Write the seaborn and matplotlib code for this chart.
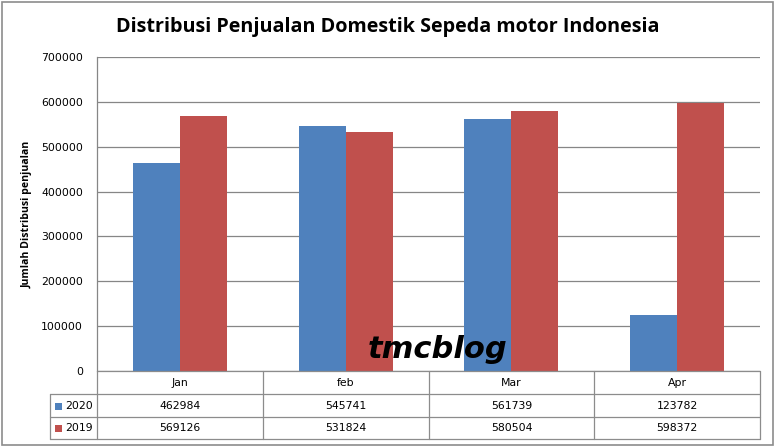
import matplotlib
matplotlib.use("Agg")
import matplotlib.pyplot as plt
import seaborn as sns
import pandas as pd
from matplotlib.patches import Rectangle
from matplotlib.lines import Line2D

months = ["Jan", "feb", "Mar", "Apr"]
series_names = ["2020", "2019"]
values_2020 = [462984, 545741, 561739, 123782]
values_2019 = [569126, 531824, 580504, 598372]
yticks = [0, 100000, 200000, 300000, 400000, 500000, 600000, 700000]
title = "Distribusi Penjualan Domestik Sepeda motor Indonesia"
ylabel = "Jumlah Distribusi penjualan"
watermark = "tmcblog"

colors = {"2020": "#4F81BD", "2019": "#C0504D"}
grid_c = "#868686"

df = pd.DataFrame({
    "month": months * 2,
    "series": ["2020"] * 4 + ["2019"] * 4,
    "value": values_2020 + values_2019,
})

sns.set_theme(style="white")
plt.rcParams['font.family'] = ['DejaVu Sans']

W, H = 776, 448
fig = plt.figure(figsize=(W / 100, H / 100), dpi=100)

def fx(px):
    return px / W

def fy(py):
    return 1 - py / H

ax_l, ax_r, ax_t, ax_b = 97, 760, 57, 371
ax = fig.add_axes([fx(ax_l), fy(ax_b), fx(ax_r - ax_l), (ax_b - ax_t) / H])

sns.barplot(data=df, x="month", y="value", hue="series", order=months,
            hue_order=series_names, palette=colors, width=0.566, gap=0,
            saturation=1, ax=ax, legend=False, edgecolor="none", linewidth=0)

ax.set_xlim(-0.5, 3.5)
ax.set_ylim(0, 700000)
ax.set_yticks(yticks)
ax.set_yticklabels([str(v) for v in yticks], fontsize=7.8, color="black")
ax.tick_params(axis="y", length=0, pad=10)
ax.set_xticks([])
ax.set_xlabel("")
ax.set_ylabel("")
for y in yticks:
    ax.axhline(y, color=grid_c, lw=0.9, zorder=0)
for s in ["top", "right", "bottom"]:
    ax.spines[s].set_visible(False)
ax.spines["left"].set_color(grid_c)
ax.spines["left"].set_linewidth(0.9)

# Outer border
fig.patches.append(Rectangle((fx(2), fy(445)), fx(771), (443) / H, transform=fig.transFigure,
                             fill=False, edgecolor="#8c8c8c", lw=1.2))

# Title and y label
fig.text(fx(388), fy(27), title, ha="center", va="center", fontsize=14.2,
         fontweight="bold", family="Open Sans", color="black")
fig.text(fx(27), fy(214), ylabel, ha="center", va="center", rotation=90,
         fontsize=7.6, fontweight="bold", family="Open Sans", color="black")

# Data table
col_x = [97, 263, 429, 594, 760]
lc = "#8c8c8c"
def hline(x0, x1, y):
    fig.add_artist(Line2D([fx(x0), fx(x1)], [fy(y), fy(y)], color=lc, lw=0.9, transform=fig.transFigure))
def vline(x, y0, y1):
    fig.add_artist(Line2D([fx(x), fx(x)], [fy(y0), fy(y1)], color=lc, lw=0.9, transform=fig.transFigure))

hline(97, 760, 371)
hline(50, 760, 394)
hline(50, 760, 417)
hline(50, 760, 439)
for x in col_x:
    vline(x, 371, 439)
vline(50, 394, 439)

for i, m in enumerate(months):
    cx = (col_x[i] + col_x[i + 1]) / 2
    fig.text(fx(cx), fy(383), m, ha="center", va="center", fontsize=7.8, color="black")
    fig.text(fx(cx), fy(406), str(values_2020[i]), ha="center", va="center", fontsize=7.8, color="black")
    fig.text(fx(cx), fy(428), str(values_2019[i]), ha="center", va="center", fontsize=7.8, color="black")

for name, yc in zip(series_names, [406, 428]):
    fig.patches.append(Rectangle((fx(55), fy(yc + 3.5)), fx(7), 7 / H, transform=fig.transFigure,
                                 facecolor=colors[name], edgecolor="none"))
    fig.text(fx(65), fy(yc), name, ha="left", va="center", fontsize=7.8, color="black")

# Watermark
fig.text(fx(438), fy(349), watermark, ha="center", va="center", fontsize=22,
         fontweight="bold", style="italic", color="black", zorder=10)

fig.savefig("out.png", dpi=100)
